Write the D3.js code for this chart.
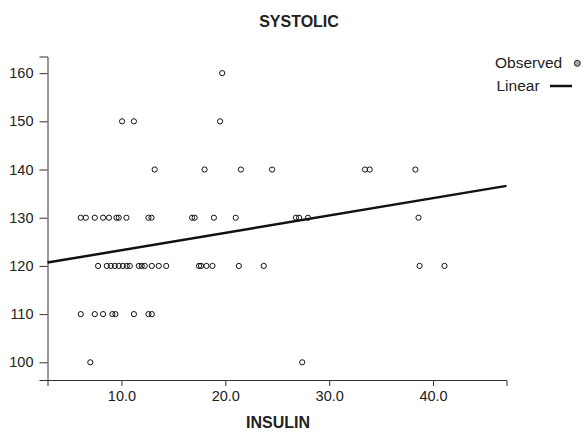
<!DOCTYPE html>
<html>
<head>
<meta charset="utf-8">
<script src="https://cdn.jsdelivr.net/npm/d3@7"></script>
<style>
  html, body { margin: 0; padding: 0; background: #fff; }
  svg { display: block; font-family: "Liberation Sans", Arial, Helvetica, sans-serif; }
</style>
</head>
<body>
<svg id="chart" width="585" height="432"></svg>
<script>
// ---- data ----
const chartTitle = "SYSTOLIC";
const xLabel = "INSULIN";
const xTicks = [10, 20, 30, 40];
const yTicks = [100, 110, 120, 130, 140, 150, 160];
const xDomain = [2.88, 47.07];
const yDomain = [96.33, 163.45];

// observed points: INSULIN values grouped by SYSTOLIC level
const systolicLevels = [160, 150, 140, 130, 120, 110, 100];
const insulin160 = [19.7];
const insulin150 = [10.06, 11.2, 19.5];
const insulin140 = [13.2, 18.0, 21.5, 24.5, 33.45, 33.9, 38.3];
const insulin130 = [6.08, 6.57, 7.43, 8.23, 8.8, 9.52, 9.74, 10.48, 12.6, 12.89,
                    16.8, 17.05, 18.9, 21.0, 26.8, 27.1, 27.96, 38.6];
const insulin120 = [7.75, 8.59, 8.97, 9.36, 9.74, 10.13, 10.51, 10.8, 11.67, 11.95,
                    12.24, 12.92, 13.59, 14.31, 17.47, 17.66, 18.18, 18.76, 21.3, 23.7,
                    38.7, 41.1];
const insulin110 = [6.08, 7.43, 8.23, 9.13, 9.42, 11.2, 12.6, 12.92];
const insulin100 = [7.0, 27.4];

// linear fit: SYSTOLIC = intercept + slope * INSULIN
const fitIntercept = 119.66;
const fitSlope = 0.36;

const legendLabels = ["Observed", "Linear"];

// ---- build ----
(function () {
const insulinByLevel = [insulin160, insulin150, insulin140, insulin130, insulin120, insulin110, insulin100];
const points = [];
systolicLevels.forEach((lvl, i) => insulinByLevel[i].forEach(v => points.push({x: v, y: lvl})));

const svg = d3.select("#chart");
const mLeft = 47.5, mRight = 506.5, mTop = 56.5, mBottom = 380;

const x = d3.scaleLinear().domain(xDomain).range([mLeft, mRight]);
const y = d3.scaleLinear().domain(yDomain).range([mBottom, mTop]);

const axisColor = "#333";

// title
svg.append("text")
  .attr("x", 299).attr("y", 27)
  .attr("text-anchor", "middle")
  .attr("font-size", 16).attr("font-weight", "bold").attr("fill", "#222")
  .text(chartTitle);

// x axis
const gx = svg.append("g")
  .attr("transform", `translate(0,${mBottom})`)
  .call(d3.axisBottom(x).tickValues(xTicks).tickFormat(d3.format(".1f")).tickSizeOuter(0).tickSize(6).tickPadding(5));
gx.select(".domain").attr("stroke", axisColor);
gx.selectAll(".tick line").attr("stroke", axisColor);
gx.selectAll(".tick text").attr("font-size", 14.5).attr("fill", "#222").attr("font-family", "Liberation Sans, Arial, sans-serif");

// y axis
const gy = svg.append("g")
  .attr("transform", `translate(${mLeft},0)`)
  .call(d3.axisLeft(y).tickValues(yTicks).tickFormat(d3.format("d")).tickSizeOuter(0).tickSize(8).tickPadding(6));
gy.select(".domain").attr("stroke", axisColor);
gy.selectAll(".tick line").attr("stroke", axisColor);
gy.selectAll(".tick text").attr("font-size", 14.5).attr("fill", "#222").attr("font-family", "Liberation Sans, Arial, sans-serif");

// x label
svg.append("text")
  .attr("x", 278).attr("y", 428)
  .attr("text-anchor", "middle")
  .attr("font-size", 16).attr("font-weight", "bold").attr("fill", "#222")
  .text(xLabel);

// points
svg.append("g").selectAll("circle")
  .data(points).enter().append("circle")
  .attr("cx", d => x(d.x)).attr("cy", d => y(d.y))
  .attr("r", 2.6)
  .attr("fill", "none").attr("stroke", "#111").attr("stroke-width", 1);

// fit line
svg.append("line")
  .attr("x1", x(xDomain[0])).attr("y1", y(fitIntercept + fitSlope * xDomain[0]))
  .attr("x2", x(xDomain[1])).attr("y2", y(fitIntercept + fitSlope * xDomain[1]))
  .attr("stroke", "#111").attr("stroke-width", 2.5);

// legend
const lg = svg.append("g");
lg.append("text").attr("x", 495).attr("y", 68).attr("font-size", 15.5).attr("fill", "#222").text(legendLabels[0]);
lg.append("circle").attr("cx", 577.3).attr("cy", 63.3).attr("r", 3)
  .attr("fill", "#aaa").attr("stroke", "#222").attr("stroke-width", 1);
lg.append("text").attr("x", 496.5).attr("y", 91).attr("font-size", 15.5).attr("fill", "#222").text(legendLabels[1]);
lg.append("line").attr("x1", 550).attr("x2", 572).attr("y1", 86).attr("y2", 86)
  .attr("stroke", "#111").attr("stroke-width", 2.5);
})();
</script>
</body>
</html>
